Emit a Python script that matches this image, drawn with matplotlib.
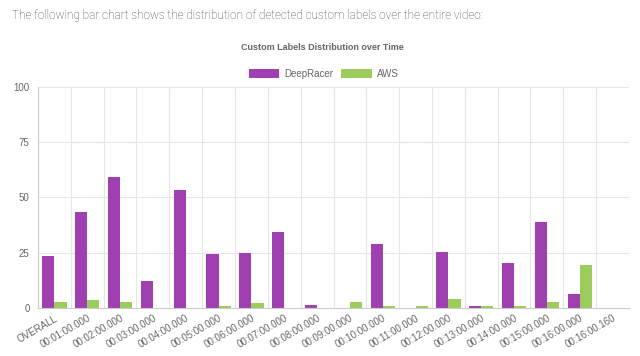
import matplotlib.pyplot as plt
import numpy as np

labels = ["OVERALL", "00:01:00.000", "00:02:00.000", "00:03:00.000", "00:04:00.000",
          "00:05:00.000", "00:06:00.000", "00:07:00.000", "00:08:00.000", "00:09:00.000",
          "00:10:00.000", "00:11:00.000", "00:12:00.000", "00:13:00.000", "00:14:00.000",
          "00:15:00.000", "00:16:00.000", "00:16:00.160"]
deepracer = [23.3, 43.4, 59.4, 12.1, 53.3, 24.2, 24.8, 34.3, 1.4, 0,
             28.8, 0, 25.4, 0.8, 20.2, 38.8, 6.0, 0]
aws = [2.6, 3.5, 2.7, 0, 0, 0.8, 2.1, 0, 0, 2.7,
       0.8, 0.8, 4.1, 0.8, 0.8, 2.7, 19.5, 0]

purple = "#a040b0"
green = "#9ccd5c"
grid_c = "#e6e6e6"
text_c = "#666666"

plt.rcParams['font.family'] = ['Liberation Sans', 'DejaVu Sans']

fig = plt.figure(figsize=(6.4, 3.56), dpi=100)
W, H = 640, 356
ax = fig.add_axes([38 / W, 1 - 307.7 / H, (629 - 38) / W, (307.7 - 87) / H])

n = len(labels)
x = np.arange(n)
bw = 0.37
ax.bar(x - bw / 2, deepracer, bw, color=purple, label="DeepRacer")
ax.bar(x + bw / 2, aws, bw, color=green, label="AWS")

ax.set_xlim(-0.5, n - 0.5)
ax.set_ylim(0, 100)
ax.set_yticks([0, 25, 50, 75, 100])
ax.set_xticks(x)
ax.set_xticklabels(labels, rotation=30, ha='right', rotation_mode='anchor')
ax.tick_params(axis='both', labelsize=7, colors=text_c, length=0, pad=6)
ax.tick_params(axis='x', pad=4)

for b in np.arange(n + 1) - 0.5:
    ax.axvline(b, color=grid_c, lw=0.8, zorder=0)
for yv in [25, 50, 75, 100]:
    ax.axhline(yv, color=grid_c, lw=0.8, zorder=0)
ax.set_axisbelow(True)
for s in ['top', 'right']:
    ax.spines[s].set_visible(False)
ax.spines['left'].set_color("#cccccc")
ax.spines['bottom'].set_color("#cccccc")

fig.text(12 / W, 1 - 16 / H, "The following bar chart shows the distribution of detected custom labels over the entire video:",
         fontsize=8.5, color="#444444", va='center', ha='left', family=['Roboto', 'DejaVu Sans'], weight='light')
fig.text(322 / W, 1 - 48 / H, "Custom Labels Distribution over Time", fontsize=6.5, weight='bold',
         color=text_c, ha='center', va='center')
fig.legend(loc='center', bbox_to_anchor=(324 / W, 1 - 74 / H), ncol=2, frameon=False, fontsize=7,
           handlelength=3.1, handleheight=0.95, labelcolor=text_c, columnspacing=0.8, handletextpad=0.6)

fig.savefig("out.png", dpi=100, facecolor='white')
